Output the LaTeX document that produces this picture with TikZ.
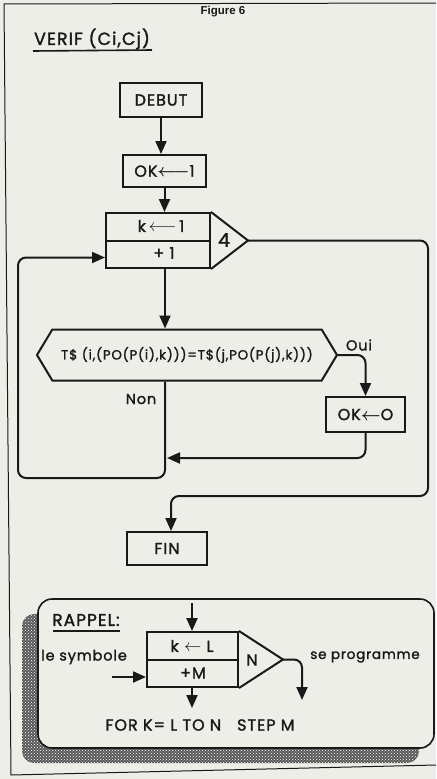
\documentclass[tikz,border=0pt]{standalone}
\usepackage{amsmath}
\usepackage{fontspec}
\setmainfont{Poppins}[FakeBold=1.6,AutoFakeBold=1.6,LetterSpace=6]
\newfontfamily\helv{Liberation Sans}
\usepackage{tikz}
\usetikzlibrary{
  arrows.meta,
  positioning,
  shapes.symbols,
  calc,
  patterns
}
\definecolor{paper}{RGB}{238,238,233}
\definecolor{ink}{RGB}{25,25,25}

\begin{document}
\begin{tikzpicture}[
  x=1pt,y=-1pt,
  color=ink,
  line width=2pt,
  every node/.style={font=\bfseries\fontsize{16}{18}\selectfont},
  n/.style={rectangle,draw,fill=paper,line width=2pt,align=center,inner sep=2pt},
  d/.style={signal,signal to=west and east,signal pointer angle=118,draw,fill=paper,
    line width=2pt,minimum width=300pt,minimum height=51pt,inner xsep=1pt,
    font=\bfseries\fontsize{13.3}{15}\selectfont},
  a/.style={-{Triangle[length=13pt,width=11pt]},line width=2pt},
  lbl/.style={font=\bfseries\fontsize{14.5}{16}\selectfont}
]
\fill[paper] (0,0) rectangle (436,779);
\draw[line width=1pt] (436,3) -- (4,4) -- (11,775) -- (436,765);

\node[font=\helv\bfseries\fontsize{11.5}{13}\selectfont] (fig) at (223,12) {Figure 6};
\node[font=\bfseries\fontsize{17.5}{20}\selectfont] (titre) at (92,39) {VERIF (Ci,Cj)};
\draw[line width=1.6pt] (33,51) -- (152,50);

\node[n,minimum width=82pt,minimum height=34pt] (debut) at (161,100) {DEBUT};
\node[n,minimum width=83pt,minimum height=32pt] (ok1) at (164.5,171) {OK$\boldsymbol{\longleftarrow}$1};

\node[n,minimum width=104pt,minimum height=55pt] (loop) at (158,240.5) {};
\draw (loop.west) -- (loop.east);
\node (kinit) at (161,226) {k\,$\longleftarrow$\,1};
\node (kinc) at (164,253) {+ 1};
\coordinate (apex) at (248,240.5);
\draw (loop.north east) -- (apex) -- (loop.south east);
\node[font=\bfseries\fontsize{19}{21}\selectfont] (lim) at (224,240) {4};

\node[d] (test) at (187,355) {T\$ (i,(PO(P(i),k)))=T\$(j,PO(P(j),k)))};
\node[n,minimum width=79pt,minimum height=35pt] (ok0) at (365.5,414.5) {OK$\boldsymbol{\leftarrow}$O};
\node[n,minimum width=80pt,minimum height=33pt] (fin) at (167,548.5) {FIN};
\node[lbl] (oui) at (359,345) {Oui};
\node[lbl] (non) at (141,399) {Non};

\coordinate (spine) at (165,0);
\coordinate (back) at (18,478);
\coordinate (exitr) at (428,496);
\coordinate (drop) at (171,496);
\coordinate (join) at (167,458);

\draw[a] (debut) -- (debut |- ok1.north);
\draw[a] (ok1) -- (ok1 |- loop.north);
\draw[a] (loop.south -| spine) -- (test.north -| spine);
\draw[a,rounded corners=8] (test.south -| spine) |- (back) |- ($(loop.west)+(0,17)$);
\draw[a,rounded corners=8] (apex) -| (exitr) -- (drop) -- (drop |- fin.north);
\draw[a,rounded corners=8] (test.east) -| (ok0.north);
\draw[a,rounded corners=8] (ok0.south) |- (join);

\fill[black!65,rounded corners=12] (22,614) rectangle (419,763);
\fill[pattern=crosshatch dots,pattern color=white,rounded corners=12] (22,614) rectangle (419,763);
\draw[fill=paper,rounded corners=14,line width=1.6pt] (38,599) rectangle (434,748);

\node[font=\bfseries\fontsize{17}{19}\selectfont] (rappel) at (86,620) {RAPPEL:};
\draw[line width=1.6pt] (53,631) -- (120,631);
\node[n,minimum width=91pt,minimum height=55pt] (rloop) at (192.5,659.5) {};
\draw (rloop.west) -- (rloop.east);
\node (rinit) at (192,646) {k $\leftarrow$ L};
\node (rinc) at (193,673) {+M};
\coordinate (rapex) at (283,659.5);
\draw (rloop.north east) -- (rapex) -- (rloop.south east);
\node (rlim) at (252,660) {N};
\coordinate (rtop) at (192,603);
\coordinate (rleft) at (112,677);
\coordinate (rbot) at (192,708);
\coordinate (rout) at (302,700);
\draw[a] (rtop) -- (rtop |- rloop.north);
\draw[a] (rleft) -- (rleft -| rloop.west);
\draw[a] (rbot |- rloop.south) -- (rbot);
\draw[a,rounded corners=8] (rapex) -| (rout);
\node[font=\bfseries\fontsize{14.5}{18}\selectfont] (symb) at (84,657) {le symbole};
\node[font=\bfseries\fontsize{13.5}{18}\selectfont] (prog) at (365,657) {se programme};
\node (for) at (200,725) {FOR K= L TO N\quad STEP M};
\end{tikzpicture}
\end{document}
